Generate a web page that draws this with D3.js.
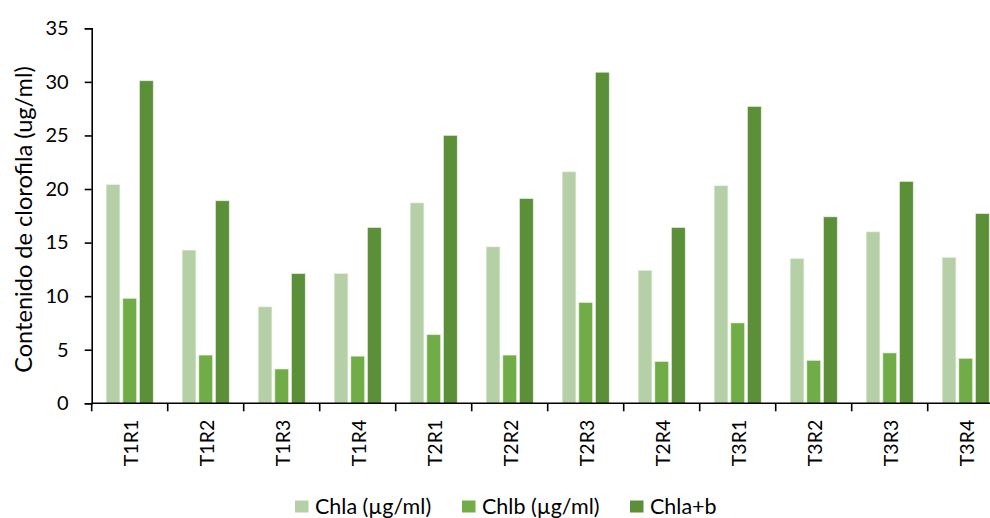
<!DOCTYPE html>
<html>
<head>
<meta charset="utf-8">
<script src="https://cdn.jsdelivr.net/npm/d3@7"></script>
<style>
  html, body { margin: 0; padding: 0; background: #fff; }
  svg text { font-family: Lato, "Open Sans", sans-serif; fill: #000; }
</style>
</head>
<body>
<svg id="chart" width="990" height="518"></svg>
<script>
// Chlorophyll content per sample
const categories = ["T1R1","T1R2","T1R3","T1R4","T2R1","T2R2","T2R3","T2R4","T3R1","T3R2","T3R3","T3R4"];
const seriesNames = ["Chla (µg/ml)", "Chlb (µg/ml)", "Chla+b"];
const chla  = [20.4, 14.3, 9.0, 12.1, 18.7, 14.6, 21.6, 12.4, 20.3, 13.5, 16.0, 13.6];
const chlb  = [9.8, 4.5, 3.2, 4.4, 6.4, 4.5, 9.4, 3.9, 7.5, 4.0, 4.7, 4.2];
const chlab = [30.1, 18.9, 12.1, 16.4, 25.0, 19.1, 30.9, 16.4, 27.7, 17.4, 20.7, 17.7];
const yTicks = [0, 5, 10, 15, 20, 25, 30, 35];
const colors = ["#b5cfa6", "#71ad47", "#5b8f38"];
const yTitle = "Contenido de clorofila (ug/ml)";

const seriesValues = [chla, chlb, chlab];
const rows = categories.map((c, i) => ({
  cat: c,
  vals: seriesNames.map((s, j) => ({ key: s, value: seriesValues[j][i], color: colors[j] }))
}));

const svg = d3.select("#chart");
const plotLeft = 91.7, plotBottom = 403.3, plotTop = 28.3;
const step = 76;

const x0 = d3.scaleBand().domain(categories)
  .range([plotLeft, plotLeft + step * categories.length]).padding(0);
const x1 = d3.scaleBand().domain(seriesNames)
  .range([0, x0.bandwidth()]).paddingInner(0.18).paddingOuter(0.87);
const y = d3.scaleLinear().domain([0, 35]).range([plotBottom, plotTop]);

// bars, with a thin light edge
const g = svg.append("g");
g.selectAll("g.cat").data(rows).join("g")
  .attr("class", "cat")
  .attr("transform", d => `translate(${x0(d.cat)},0)`)
  .selectAll("rect").data(d => d.vals).join("rect")
  .attr("x", d => x1(d.key))
  .attr("width", x1.bandwidth())
  .attr("y", d => y(d.value))
  .attr("height", d => y(0) - y(d.value))
  .attr("fill", d => d.color)
  .attr("stroke", "#e4eedd")
  .attr("stroke-width", 0.6);

// y axis
const yAxis = svg.append("g")
  .attr("transform", `translate(${plotLeft},0)`)
  .call(d3.axisLeft(y).tickValues(yTicks).tickSize(7).tickPadding(16).tickFormat(d3.format("d")));
yAxis.select(".domain").attr("stroke", "#000").attr("stroke-width", 1.6);
yAxis.selectAll(".tick line").attr("stroke", "#000").attr("stroke-width", 1.6);
yAxis.selectAll(".tick text").style("font-size", "20px");

// x axis: baseline, boundary ticks and rotated labels
const xAxis = svg.append("g").attr("transform", `translate(0,${plotBottom})`);
xAxis.append("line")
  .attr("x1", plotLeft).attr("x2", 990)
  .attr("stroke", "#000").attr("stroke-width", 1.6);
const boundaries = d3.range(categories.length + 1).map(i => plotLeft + i * step);
xAxis.selectAll("line.b").data(boundaries).join("line")
  .attr("class", "b")
  .attr("x1", d => d).attr("x2", d => d)
  .attr("y1", 0).attr("y2", 8)
  .attr("stroke", "#000").attr("stroke-width", 1.6);
xAxis.selectAll("text").data(categories).join("text")
  .attr("transform", d => `translate(${x0(d) + x0.bandwidth() / 2},16.5) rotate(-90)`)
  .attr("text-anchor", "end")
  .attr("dy", "0.45em")
  .style("font-size", "19.5px")
  .text(d => d);

// y axis title
svg.append("text")
  .attr("transform", `translate(32,219.5) rotate(-90)`)
  .attr("text-anchor", "middle")
  .style("font-size", "23.6px")
  .text(yTitle);

// legend
const legendX = [295, 462, 630];
const lg = svg.append("g");
seriesNames.forEach((s, i) => {
  lg.append("rect").attr("x", legendX[i]).attr("y", 500.5)
    .attr("width", 13.5).attr("height", 12).attr("fill", colors[i]);
  lg.append("text").attr("x", legendX[i] + 20).attr("y", 513.5)
    .style("font-size", "21.5px").text(s);
});
</script>
</body>
</html>
